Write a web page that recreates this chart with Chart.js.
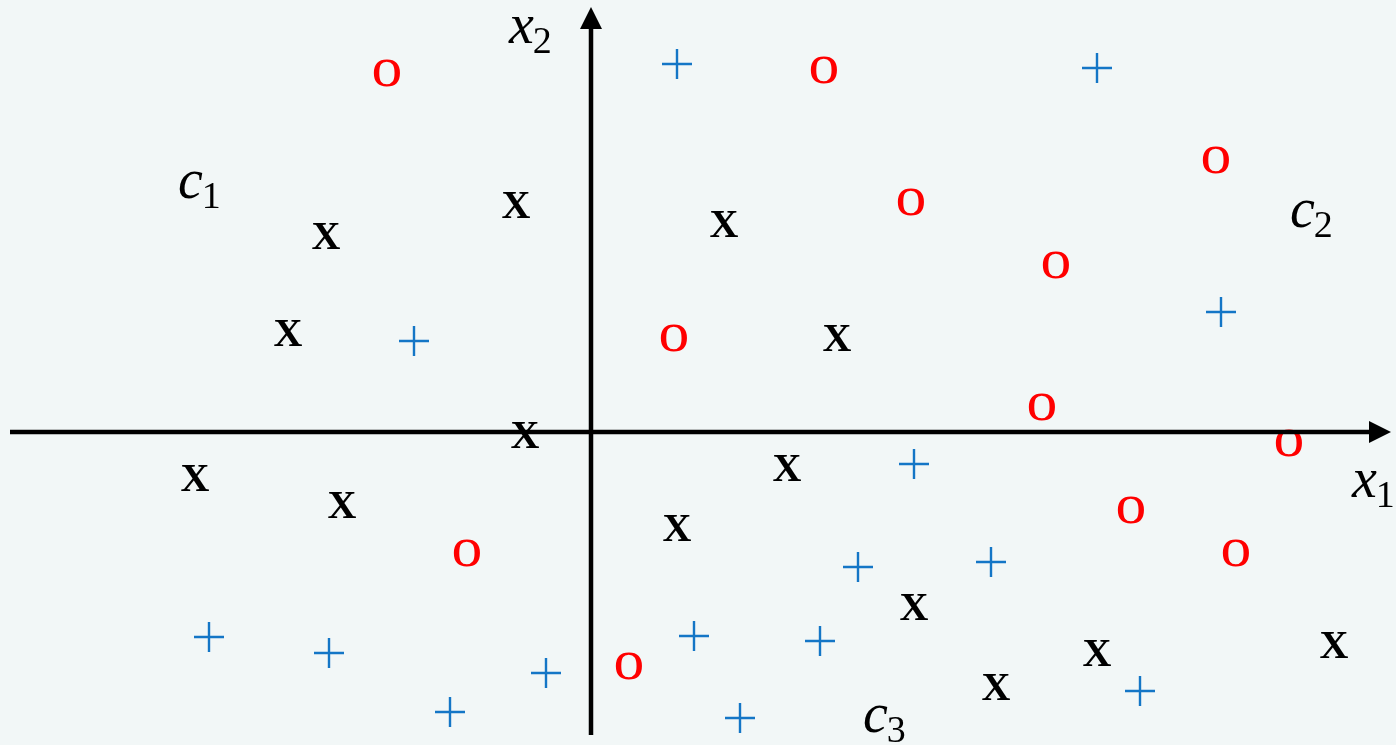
<!DOCTYPE html>
<html><head><meta charset="utf-8">
<script src="https://cdn.jsdelivr.net/npm/chart.js@4/dist/chart.umd.min.js"></script>
<style>
html,body{margin:0;padding:0;background:#f2f7f7;}
#wrap{width:1396px;height:745px;position:relative;}
</style></head>
<body><div id="wrap"><canvas id="c"></canvas></div>
<script>
// Data (units: origin at axes crossing)
const redO_x = [-20.4, 23.3, 62.5, 32.0, 46.5, 8.3, 45.1, 69.8, 54.0, 64.5, -12.4, 3.8];
const redO_y = [35.9, 36.2, 27.2, 23.0, 16.7, 9.4, 2.5, -1.1, -7.8, -12.1, -12.1, -23.4];
const bluePlus_x = [8.6, 50.6, 63.0, -17.7, 32.3, 26.7, 40.0, -38.2, -26.2, 10.3, 22.9, -4.5, -14.1, 14.9, 54.9];
const bluePlus_y = [36.8, 36.4, 12.0, 9.1, -3.2, -13.5, -13.0, -20.5, -22.1, -20.4, -20.9, -24.1, -28.0, -28.6, -25.9];
const blackX_x = [-7.5, -26.5, 13.3, -30.3, 24.6, -6.6, -39.6, -24.9, 19.6, 8.6, 32.3, 50.6, 40.5, 74.3];
const blackX_y = [22.7, 19.6, 20.8, 9.9, 9.4, -0.3, -4.6, -7.3, -3.6, -9.6, -17.5, -22.1, -25.5, -21.3];
const labelText = ['c', 'c', 'c', 'x', 'x'];
const labelSub = ['1', '2', '3', '2', '1'];
const labelX = [-41.3, 69.9, 27.2, -8.2, 76.1];
const labelY = [23.4, 20.5, -30.0, 38.9, -6.5];

const zip = (xs, ys) => xs.map((x, i) => ({x, y: ys[i]}));

function glyph(ch, font, color, sx) {
  const c = document.createElement('canvas');
  c.width = 60; c.height = 60;
  const g = c.getContext('2d');
  g.font = font; g.fillStyle = color;
  const m = g.measureText(ch);
  g.translate(30, 30); g.scale(sx, 1);
  const x0 = -(m.actualBoundingBoxRight - m.actualBoundingBoxLeft) / 2;
  const y0 = (m.actualBoundingBoxAscent - m.actualBoundingBoxDescent) / 2;
  g.fillText(ch, x0, y0);
  return c;
}

const axesPlugin = {
  id: 'axesPlugin',
  afterDatasetsDraw(chart) {
    const ctx = chart.ctx, xs = chart.scales.x, ys = chart.scales.y;
    const ox = xs.getPixelForValue(0), oy = ys.getPixelForValue(0);
    ctx.save();
    ctx.strokeStyle = '#000'; ctx.fillStyle = '#000'; ctx.lineWidth = 4.5;
    ctx.beginPath(); ctx.moveTo(10, oy); ctx.lineTo(1374, oy); ctx.stroke();
    ctx.beginPath(); ctx.moveTo(1391, oy); ctx.lineTo(1369, oy - 11); ctx.lineTo(1369, oy + 11); ctx.closePath(); ctx.fill();
    ctx.beginPath(); ctx.moveTo(ox, 735); ctx.lineTo(ox, 26); ctx.stroke();
    ctx.beginPath(); ctx.moveTo(ox, 7); ctx.lineTo(ox - 11, 29); ctx.lineTo(ox + 11, 29); ctx.closePath(); ctx.fill();
    ctx.textBaseline = 'alphabetic';
    labelText.forEach((t, i) => {
      const px = xs.getPixelForValue(labelX[i]), py = ys.getPixelForValue(labelY[i]);
      ctx.font = 'italic 56px "Liberation Serif"';
      const w = ctx.measureText(t).width;
      ctx.fillText(t, px, py);
      ctx.font = '38px "Liberation Serif"';
      ctx.fillText(labelSub[i], px + w - 1, py + 10);
    });
    ctx.restore();
  }
};

Promise.all([
  document.fonts.load('40px "Liberation Serif"'),
  document.fonts.load('bold 40px "Liberation Serif"'),
  document.fonts.load('italic 56px "Liberation Serif"')
]).catch(() => {}).then(() => {
  const oImg = glyph('o', '56px "Liberation Serif"', '#ff0000', 1.1);
  const xImg = glyph('X', 'bold 40px "Liberation Serif"', '#000000', 1.0);
  new Chart(document.getElementById('c'), {
    type: 'scatter',
    data: {
      datasets: [
        {data: zip(redO_x, redO_y), pointStyle: oImg},
        {data: zip(bluePlus_x, bluePlus_y), pointStyle: 'cross', radius: 15, borderColor: '#1476c6', borderWidth: 2.4},
        {data: zip(blackX_x, blackX_y), pointStyle: xImg}
      ]
    },
    options: {
      responsive: true, maintainAspectRatio: false, animation: false,
      layout: {padding: 0, autoPadding: false},
      plugins: {legend: {display: false}, tooltip: {enabled: false}},
      scales: {
        x: {type: 'linear', display: false, min: -59.1, max: 80.5},
        y: {type: 'linear', display: false, min: -31.3, max: 43.2}
      }
    },
    plugins: [axesPlugin]
  });
});
</script></body></html>
